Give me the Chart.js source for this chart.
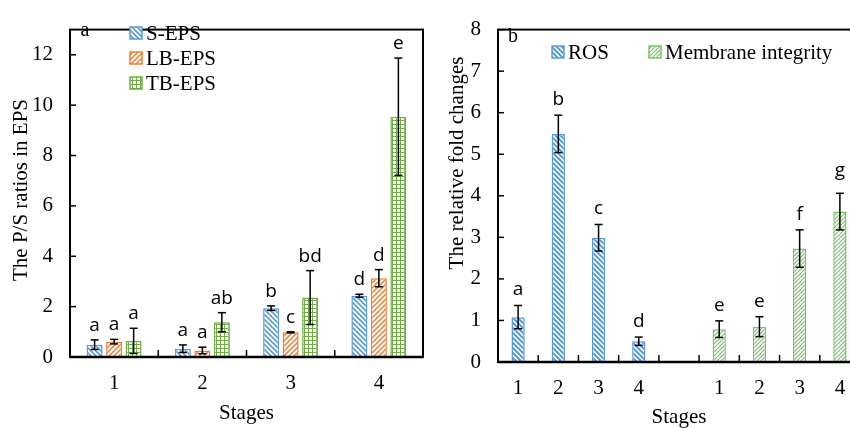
<!DOCTYPE html>
<html>
<head>
<meta charset="utf-8">
<script src="https://cdn.jsdelivr.net/npm/chart.js@4/dist/chart.umd.min.js"></script>
<style>
  html, body { margin: 0; padding: 0; background: #fff; overflow: hidden; }
  #wrap { position: relative; width: 850px; height: 428px; overflow: hidden; }
  #left { position: absolute; left: 0; top: 0; }
  #right { position: absolute; left: 430px; top: 0; }
</style>
</head>
<body>
<div id="wrap">
  <canvas id="left" width="430" height="428"></canvas>
  <canvas id="right" width="440" height="428"></canvas>
</div>
<script>
// panel a: P/S ratios
const stages = ['1', '2', '3', '4'];
const sEps = [0.49, 0.33, 1.94, 2.43];
const sEpsErr = [0.19, 0.15, 0.09, 0.06];
const sEpsLetters = ['a', 'a', 'b', 'd'];
const lbEps = [0.61, 0.26, 0.98, 3.13];
const lbEpsErr = [0.09, 0.13, 0.02, 0.34];
const lbEpsLetters = ['a', 'a', 'c', 'd'];
const tbEps = [0.64, 1.38, 2.36, 9.54];
const tbEpsErr = [0.5, 0.38, 1.07, 2.33];
const tbEpsLetters = ['a', 'ab', 'bd', 'e'];
const ticksA = [0, 2, 4, 6, 8, 10, 12];

// panel b: fold changes
const stagesB = ['1', '2', '3', '4', '', '1', '2', '3', '4'];
const ros = [1.08, 5.49, 2.99, 0.50, null, null, null, null, null];
const rosErr = [0.28, 0.45, 0.32, 0.10, null, null, null, null, null];
const rosLetters = ['a', 'b', 'c', 'd', '', '', '', '', ''];
const membrane = [null, null, null, null, null, 0.79, 0.85, 2.73, 3.62];
const membraneErr = [null, null, null, null, null, 0.20, 0.24, 0.45, 0.44];
const membraneLetters = ['', '', '', '', '', 'e', 'e', 'f', 'g'];
const ticksB = [0, 1, 2, 3, 4, 5, 6, 7, 8];

const BLUE = '#5b9bd5';
const ORANGE = '#ed7d31';
const GREEN = '#70ad47';
const GREEN_B = '#7cc46a';

Chart.defaults.font.family = '"Liberation Serif", "Times New Roman", serif';
Chart.defaults.color = '#000';

function hatch(color, dir, size, width) {
  const c = document.createElement('canvas');
  c.width = size; c.height = size;
  const g = c.getContext('2d');
  g.fillStyle = '#fff';
  g.fillRect(0, 0, size, size);
  g.strokeStyle = color;
  g.lineWidth = width;
  g.beginPath();
  if (dir === 'back') {
    g.moveTo(-1, -1); g.lineTo(size + 1, size + 1);
    g.moveTo(-1, size - 1); g.lineTo(1, size + 1);
    g.moveTo(size - 1, -1); g.lineTo(size + 1, 1);
  } else {
    g.moveTo(-1, size + 1); g.lineTo(size + 1, -1);
    g.moveTo(-1, 1); g.lineTo(1, -1);
    g.moveTo(size - 1, size + 1); g.lineTo(size + 1, size - 1);
  }
  g.stroke();
  return g.createPattern(c, 'repeat');
}

function gridPattern(color, size) {
  const c = document.createElement('canvas');
  c.width = size; c.height = size;
  const g = c.getContext('2d');
  g.fillStyle = '#fff';
  g.fillRect(0, 0, size, size);
  g.fillStyle = color;
  g.fillRect(0, 0, size, 1);
  g.fillRect(0, 0, 1, size);
  return g.createPattern(c, 'repeat');
}

const sPat = hatch(BLUE, 'back', 5, 1.6);
const lbPat = hatch(ORANGE, 'fwd', 5, 1.5);
const tbPat = gridPattern(GREEN, 4);
const rosPat = hatch(BLUE, 'back', 5, 2);
const memPat = hatch(GREEN_B, 'fwd', 4, 1.2);

function line(ctx, x1, y1, x2, y2) {
  ctx.beginPath();
  ctx.moveTo(x1, y1);
  ctx.lineTo(x2, y2);
  ctx.stroke();
}

// frame, inward ticks, error bars, letters, legend, panel tag, y title
const decorPlugin = {
  id: 'decor',
  afterDatasetsDraw(chart, args, opts) {
    const { ctx, chartArea: a, scales: { x, y } } = chart;
    ctx.save();

    // error bars + letters
    chart.data.datasets.forEach((ds, i) => {
      const meta = chart.getDatasetMeta(i);
      meta.data.forEach((bar, j) => {
        const v = ds.data[j];
        if (v == null) return;
        const e = ds.errors[j];
        const top = y.getPixelForValue(v + e);
        const bot = y.getPixelForValue(v - e);
        ctx.strokeStyle = '#000';
        ctx.lineWidth = 1.5;
        line(ctx, bar.x, top, bar.x, bot);
        line(ctx, bar.x - 4, top, bar.x + 4, top);
        line(ctx, bar.x - 4, bot, bar.x + 4, bot);
        ctx.fillStyle = '#000';
        ctx.font = '19px "Open Sans", sans-serif';
        ctx.textAlign = 'center';
        ctx.textBaseline = 'alphabetic';
        const txt = ds.letters[j];
        const gap = /[gpqy]/.test(txt) ? 17 : opts.letterGap;
        ctx.fillText(txt, bar.x, top - gap);
      });
    });

    // plot frame
    ctx.strokeStyle = '#000';
    ctx.lineWidth = 2;
    ctx.strokeRect(a.left, a.top, a.right - a.left, a.bottom - a.top);
    ctx.lineWidth = 2.5;
    line(ctx, a.left, a.bottom, a.right, a.bottom);

    // inward ticks
    ctx.lineWidth = 1.5;
    y.ticks.forEach((t) => {
      const py = y.getPixelForValue(t.value);
      line(ctx, a.left, py, a.left + 6, py);
    });
    for (let i = 1; i < x.ticks.length; i++) {
      const px = (x.getPixelForValue(i - 1) + x.getPixelForValue(i)) / 2;
      line(ctx, px, a.bottom, px, a.bottom - 7);
    }

    // legend
    ctx.font = '21px "Liberation Serif", serif';
    ctx.textAlign = 'left';
    ctx.textBaseline = 'middle';
    opts.legend.forEach((item) => {
      const ds = chart.data.datasets[item.index];
      ctx.fillStyle = ds.backgroundColor;
      ctx.fillRect(item.x, item.y - 6, 12, 12);
      ctx.strokeStyle = ds.borderColor;
      ctx.lineWidth = 1.5;
      ctx.strokeRect(item.x, item.y - 6, 12, 12);
      ctx.fillStyle = '#000';
      ctx.fillText(ds.label, item.x + 16, item.y + 1);
    });

    // y title
    ctx.save();
    ctx.translate(opts.yTitle.x, opts.yTitle.y);
    ctx.rotate(-Math.PI / 2);
    ctx.textAlign = 'center';
    ctx.fillText(opts.yTitle.text, 0, 0);
    ctx.restore();

    // panel tag
    ctx.font = '20px "Liberation Serif", serif';
    ctx.textAlign = 'center';
    ctx.fillText(opts.tag.text, opts.tag.x, opts.tag.y);
    ctx.restore();
  },
};

function yScale(max, ticks, width) {
  return {
    min: 0,
    max: max,
    grid: { display: false, drawTicks: false },
    border: { display: false },
    afterBuildTicks: (s) => { s.ticks = ticks.map((v) => ({ value: v })); },
    afterFit: (s) => { s.width = width; },
    ticks: { font: { size: 21 }, padding: 17, color: '#000' },
  };
}

function xScale(height, titlePad, stacked) {
  return {
    stacked: stacked,
    grid: { display: false, drawTicks: false },
    border: { display: false },
    afterFit: (s) => { s.height = height; },
    ticks: { font: { size: 21 }, padding: 14, color: '#000', maxRotation: 0, autoSkip: false },
    title: {
      display: true,
      text: 'Stages',
      font: { size: 21, lineHeight: 1 },
      padding: { top: 0, bottom: titlePad },
      color: '#000',
    },
  };
}

new Chart(document.getElementById('left'), {
  type: 'bar',
  data: {
    labels: stages,
    datasets: [
      { label: 'S-EPS', data: sEps, errors: sEpsErr, letters: sEpsLetters,
        backgroundColor: sPat, borderColor: BLUE, borderWidth: 1.5 },
      { label: 'LB-EPS', data: lbEps, errors: lbEpsErr, letters: lbEpsLetters,
        backgroundColor: lbPat, borderColor: ORANGE, borderWidth: 1.5 },
      { label: 'TB-EPS', data: tbEps, errors: tbEpsErr, letters: tbEpsLetters,
        backgroundColor: tbPat, borderColor: GREEN, borderWidth: 1.5 },
    ],
  },
  options: {
    responsive: false,
    animation: false,
    categoryPercentage: 0.663,
    barPercentage: 0.82,
    layout: { padding: { top: 17, right: 7, left: 0, bottom: 0 } },
    plugins: {
      legend: { display: false },
      tooltip: { enabled: false },
      decor: {
        letterGap: 9,
        legend: [
          { index: 0, x: 130, y: 33 },
          { index: 1, x: 130, y: 58 },
          { index: 2, x: 130, y: 83 },
        ],
        yTitle: { text: 'The P/S ratios in EPS', x: 21, y: 190 },
        tag: { text: 'a', x: 85, y: 31 },
      },
    },
    scales: {
      x: xScale(71, 4.5, false),
      y: yScale(13, ticksA, 70),
    },
  },
  plugins: [decorPlugin],
});

new Chart(document.getElementById('right'), {
  type: 'bar',
  data: {
    labels: stagesB,
    datasets: [
      { label: 'ROS', data: ros, errors: rosErr, letters: rosLetters,
        backgroundColor: rosPat, borderColor: BLUE, borderWidth: 1.5 },
      { label: 'Membrane integrity', data: membrane, errors: membraneErr, letters: membraneLetters,
        backgroundColor: memPat, borderColor: GREEN_B, borderWidth: 1.5 },
    ],
  },
  options: {
    responsive: false,
    animation: false,
    categoryPercentage: 1,
    barPercentage: 0.33,
    layout: { padding: { top: 23, right: 10, left: 0, bottom: 0 } },
    plugins: {
      legend: { display: false },
      tooltip: { enabled: false },
      decor: {
        letterGap: 10,
        legend: [
          { index: 0, x: 122, y: 52 },
          { index: 1, x: 219, y: 52 },
        ],
        yTitle: { text: 'The relative fold changes', x: 27, y: 163 },
        tag: { text: 'b', x: 83, y: 37 },
      },
    },
    scales: {
      x: xScale(66, 0, true),
      y: yScale(8, ticksB, 68),
    },
  },
  plugins: [decorPlugin],
});
</script>
</body>
</html>
